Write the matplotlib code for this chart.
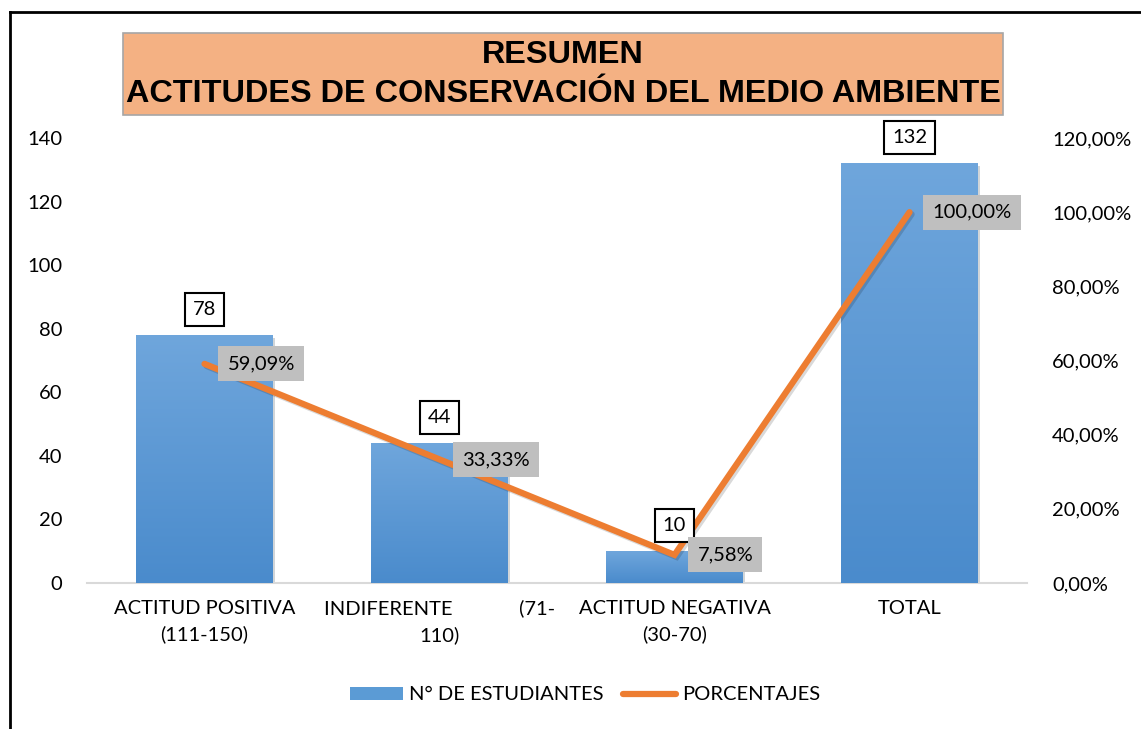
import matplotlib
matplotlib.use("Agg")
import matplotlib.pyplot as plt
import numpy as np
from matplotlib.patches import Rectangle, Patch
from matplotlib.lines import Line2D
import matplotlib.patheffects as pe
from matplotlib.colors import LinearSegmentedColormap

categories = ["ACTITUD POSITIVA\n(111-150)",
              "INDIFERENTE             (71-\n110)",
              "ACTITUD NEGATIVA\n(30-70)",
              "TOTAL"]
estudiantes = [78, 44, 10, 132]
porcentajes = [59.09, 33.33, 7.58, 100.00]
pct_labels = ["59,09%", "33,33%", "7,58%", "100,00%"]
left_ticks = [0, 20, 40, 60, 80, 100, 120, 140]
right_ticks = [0, 20, 40, 60, 80, 100, 120]
right_tick_labels = ["0,00%", "20,00%", "40,00%", "60,00%", "80,00%", "100,00%", "120,00%"]

FONT = "Lato"
FS = 14.5
plt.rcParams["font.family"] = [FONT, "DejaVu Sans"]

W, H = 1141, 729
fig = plt.figure(figsize=(W / 100, H / 100), dpi=100)
fig.patch.set_facecolor("white")

ax = fig.add_axes([87 / W, (H - 583) / H, 940 / W, 445 / H])
x = np.arange(len(categories))
bars = ax.bar(x, estudiantes, width=0.58, color="#5B9BD5", zorder=2)

# gradient fill for bars
grad = np.linspace(0, 1, 256).reshape(-1, 1)
cmap = LinearSegmentedColormap.from_list("g", ["#4A8BCC", "#6FA6DC"])
for b in bars:
    bx, by = b.get_x(), b.get_y()
    bw, bh = b.get_width(), b.get_height()
    im = ax.imshow(grad, extent=[bx, bx + bw, by, by + bh], origin="lower",
                   cmap=cmap, aspect="auto", zorder=3)
    im.set_clip_path(b)
    b.set_path_effects([pe.SimplePatchShadow(offset=(2, -2), alpha=0.2), pe.Normal()])
ax.set_xlim(-0.5, 3.5)
ax.set_ylim(0, 140)

for s in ["top", "right", "left"]:
    ax.spines[s].set_visible(False)
ax.spines["bottom"].set_color("#D9D9D9")
ax.spines["bottom"].set_linewidth(1.5)
ax.set_yticks(left_ticks)
ax.set_yticklabels([str(t) for t in left_ticks], fontsize=FS)
ax.tick_params(axis="y", length=0, pad=18)
ax.set_xticks(x)
ax.set_xticklabels(categories, fontsize=FS, linespacing=1.55)
ax.tick_params(axis="x", length=0, pad=12)

ax2 = ax.twinx()
ax2.set_ylim(0, 120)
ax2.set_yticks(right_ticks)
ax2.set_yticklabels(right_tick_labels, fontsize=FS)
ax2.tick_params(axis="y", length=0, pad=18)
for s in ["top", "right", "left", "bottom"]:
    ax2.spines[s].set_visible(False)

ax2.plot(x, porcentajes, color="#ED7D31", lw=4.5, solid_capstyle="round",
         solid_joinstyle="miter", zorder=3,
         path_effects=[pe.SimpleLineShadow(offset=(1.5, -1.5), alpha=0.15), pe.Normal()])

for i, v in enumerate(estudiantes):
    ax2.annotate(str(v), xy=(x[i], v), xycoords=ax.transData,
                 xytext=(0, 26), textcoords="offset pixels",
                 ha="center", va="center", fontsize=FS, zorder=6,
                 bbox=dict(boxstyle="square,pad=0.4", fc="white", ec="black", lw=1.5))

for i, p in enumerate(porcentajes):
    ax2.annotate(pct_labels[i], xy=(x[i], p), xycoords="data",
                 xytext=(23, 0), textcoords="offset pixels",
                 ha="left", va="center", fontsize=FS, zorder=6,
                 bbox=dict(boxstyle="square,pad=0.45", fc="#BFBFBF", ec="none"))

# title box
fig.patches.append(Rectangle((123 / W, (H - 115) / H), 880 / W, 82 / H,
                             transform=fig.transFigure, fc="#F4B183", ec="#A6A6A6", lw=1.2))
fig.text(563 / W, (H - 55) / H, "RESUMEN", ha="center", va="center",
         fontsize=23.3, fontweight="bold", family="Liberation Sans")
fig.text(563 / W, (H - 94) / H, "ACTITUDES DE CONSERVACIÓN DEL MEDIO AMBIENTE",
         ha="center", va="center", fontsize=23.3, fontweight="bold", family="Liberation Sans")

# outer border (left and top)
fig.add_artist(Line2D([10 / W, 10 / W], [0, (H - 12) / H], color="black", lw=2,
                      transform=fig.transFigure))
fig.add_artist(Line2D([10 / W, 1], [(H - 12) / H, (H - 12) / H], color="black", lw=2,
                      transform=fig.transFigure))

handles = [Patch(facecolor="#5B9BD5", edgecolor="none"),
           Line2D([0], [0], color="#ED7D31", lw=4.5, solid_capstyle="round")]
fig.legend(handles, ["N° DE ESTUDIANTES", "PORCENTAJES"], loc="center",
           bbox_to_anchor=(585 / W, (H - 695) / H), ncol=2, frameon=False,
           fontsize=FS, handlelength=2.6, handleheight=0.6, handletextpad=0.3,
           columnspacing=1.0)

fig.savefig("out.png", dpi=100)
